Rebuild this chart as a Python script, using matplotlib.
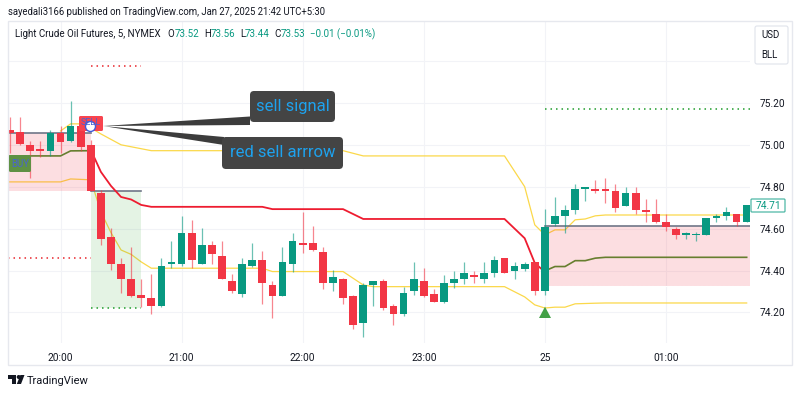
import numpy as np
import matplotlib
matplotlib.use("Agg")
import matplotlib.pyplot as plt
from matplotlib.patches import FancyBboxPatch, Polygon, Circle, Rectangle

plt.rcParams['font.family'] = ['Roboto', 'DejaVu Sans']

# candles, bar 0 is 19:35, one bar is 5 minutes
highs = [75.132, 75.132, 75.020, 75.020, 75.071, 75.090, 75.210, 75.109, 75.023, 74.785,
         74.602, 74.459, 74.511, 74.360, 74.382, 74.459, 74.541, 74.661, 74.641, 74.602,
         74.543, 74.543, 74.382, 74.459, 74.532, 74.492, 74.350, 74.511, 74.581, 74.680,
         74.613, 74.511, 74.401, 74.366, 74.282, 74.339, 74.350, 74.360, 74.241, 74.323,
         74.440, 74.411, 74.312, 74.379, 74.400, 74.440, 74.400, 74.440, 74.470, 74.459,
         74.440, 74.440, 74.440, 74.693, 74.750, 74.713, 74.812, 74.800, 74.832, 74.842,
         74.812, 74.800, 74.800, 74.742, 74.742, 74.670, 74.610, 74.583, 74.583, 74.650,
         74.670, 74.702, 74.670, 74.712]
body_tops = [75.071, 75.060, 75.000, 74.979, 75.058, 75.058, 75.090, 75.090, 75.000, 74.770,
             74.559, 74.432, 74.360, 74.282, 74.271, 74.422, 74.441, 74.581, 74.581, 74.522,
             74.522, 74.470, 74.350, 74.432, 74.451, 74.451, 74.331, 74.440, 74.541, 74.532,
             74.532, 74.490, 74.371, 74.360, 74.280, 74.331, 74.350, 74.350, 74.231, 74.292,
             74.358, 74.349, 74.290, 74.339, 74.358, 74.390, 74.379, 74.390, 74.451, 74.459,
             74.421, 74.430, 74.440, 74.610, 74.659, 74.689, 74.790, 74.800, 74.790, 74.790,
             74.780, 74.769, 74.769, 74.691, 74.670, 74.632, 74.600, 74.581, 74.573, 74.650,
             74.661, 74.680, 74.670, 74.712]
body_bottoms = [75.058, 75.003, 74.971, 74.971, 74.971, 75.012, 75.020, 74.991, 74.781, 74.551,
                74.433, 74.360, 74.279, 74.271, 74.232, 74.232, 74.433, 74.433, 74.449, 74.433,
                74.481, 74.360, 74.301, 74.290, 74.421, 74.339, 74.280, 74.280, 74.433, 74.522,
                74.500, 74.339, 74.339, 74.271, 74.140, 74.150, 74.331, 74.223, 74.191, 74.191,
                74.301, 74.280, 74.250, 74.250, 74.339, 74.360, 74.370, 74.360, 74.390, 74.390,
                74.400, 74.409, 74.301, 74.301, 74.621, 74.659, 74.691, 74.790, 74.780, 74.780,
                74.700, 74.710, 74.691, 74.681, 74.631, 74.610, 74.571, 74.571, 74.569, 74.570,
                74.650, 74.661, 74.632, 74.632]
lows = [74.960, 75.000, 74.843, 74.944, 74.947, 74.960, 75.015, 74.972, 74.780, 74.522,
        74.403, 74.292, 74.273, 74.225, 74.193, 74.225, 74.411, 74.423, 74.411, 74.432,
        74.433, 74.360, 74.292, 74.273, 74.419, 74.241, 74.172, 74.280, 74.395, 74.483,
        74.492, 74.314, 74.304, 74.242, 74.123, 74.083, 74.232, 74.213, 74.142, 74.183,
        74.284, 74.273, 74.250, 74.244, 74.316, 74.335, 74.342, 74.341, 74.371, 74.390,
        74.360, 74.400, 74.282, 74.282, 74.613, 74.581, 74.670, 74.732, 74.772, 74.723,
        74.681, 74.710, 74.670, 74.632, 74.626, 74.590, 74.551, 74.551, 74.543, 74.570,
        74.633, 74.642, 74.613, 74.632]
# r = down bar, g = up bar
directions = ("rrrrgrgrrr"
              "rrrrrgggrg"
              "rrrggrrggr"
              "rrgrrggrrg"
              "grrgggrggr"
              "ggrgggggrr"
              "rgrrrrrggg"
              "ggrg")

yellow_upper_bars = [5, 6, 7, 8, 9, 11, 14, 33, 35, 49, 51, 52, 53, 54, 55, 56, 57, 58, 59, 73]
yellow_upper = [75.066, 75.100, 75.100, 75.081, 75.052, 75.000, 74.972, 74.972, 74.947, 74.947,
                74.800, 74.618, 74.570, 74.594, 74.594, 74.642, 74.646, 74.661, 74.665, 74.665]
yellow_lower_bars = [-0.2, 5, 6, 8, 9, 10, 11, 12, 13, 14, 25, 26, 33, 35, 36, 49, 51, 52, 53, 54, 55, 56, 58, 59, 73]
yellow_lower = [74.823, 74.823, 74.837, 74.833, 74.680, 74.581, 74.498, 74.477, 74.441, 74.411,
                74.411, 74.395, 74.395, 74.331, 74.323, 74.323, 74.274, 74.236, 74.221, 74.225,
                74.225, 74.241, 74.244, 74.245, 74.245]
red_bars = [8, 9, 10, 11, 12, 13, 14, 25, 26, 33, 35, 49, 51, 52, 53]
red_line = [74.976, 74.871, 74.804, 74.751, 74.739, 74.713, 74.704, 74.704, 74.693, 74.693,
            74.646, 74.646, 74.554, 74.436, 74.393]
green_left_bars = [-0.2, 5, 6, 8]
green_left = [74.947, 74.947, 74.971, 74.972]
green_right_bars = [53, 54, 55, 56, 57, 58, 59, 73]
green_right = [74.398, 74.419, 74.419, 74.447, 74.447, 74.459, 74.463, 74.463]

time_bars = [5, 17, 29, 41, 53, 65]
time_labels = ["20:00", "21:00", "22:00", "23:00", "25", "01:00"]
price_grid = [74.2, 74.4, 74.6, 74.8, 75.0, 75.2, 75.4]
price_ticks = [74.2, 74.4, 74.6, 74.8, 75.0, 75.2]
last_price = 74.71

green = "#089981"
red = "#f23645"
yellow = "#fbd84a"
text_col = "#131722"
grid_col = "#f2f3f7"

fig = plt.figure(figsize=(8, 3.94), dpi=100)
ax = fig.add_axes([8 / 800, 1 - 343 / 394, 742 / 800, 322 / 394])
bars = np.arange(len(highs))
ax.set_xlim(-0.203, 73.33)
ax.set_ylim(74.054, 75.591)

ax.set_xticks(time_bars)
ax.set_xticklabels(time_labels)
ax.set_yticks(price_ticks)
ax.set_yticklabels(["%.2f" % p for p in price_ticks])
ax.yaxis.tick_right()
ax.tick_params(length=0, labelsize=7.3, colors=text_col)
ax.tick_params(axis="x", pad=7)
ax.tick_params(axis="y", pad=7)
for s in ax.spines.values():
    s.set_visible(False)
for t in price_grid:
    ax.axhline(t, color=grid_col, lw=0.8, zorder=0)
for t in time_bars:
    ax.axvline(t, color=grid_col, lw=0.8, zorder=0)

# lines go first so the boxes tint them like on the chart
ax.plot(yellow_upper_bars, yellow_upper, color=yellow, lw=0.9, zorder=1)
ax.plot(yellow_lower_bars, yellow_lower, color=yellow, lw=0.9, zorder=1)
ax.plot(green_left_bars, green_left, color="#4c8c2b", lw=1.2, zorder=1)
ax.plot(green_right_bars, green_right, color="#4c8c2b", lw=1.2, zorder=1)

# zones
ax.fill_between([-0.2, 8], 74.780, 75.058, color=red, alpha=0.16, lw=0, zorder=2)
ax.fill_between([8, 13], 74.223, 74.780, color="#4caf50", alpha=0.15, lw=0, zorder=2)
ax.fill_between([53, 73.33], 74.326, 74.613, color=red, alpha=0.16, lw=0, zorder=2)
ax.plot([-0.2, 8], [75.058, 75.058], color="#6f7687", lw=1.2, zorder=3)
ax.plot([8, 13], [74.780, 74.780], color="#6f7687", lw=1.2, zorder=3)
ax.plot([53, 73.33], [74.613, 74.613], color="#6f7687", lw=1.2, zorder=3)
ax.plot([53, 73.33], [74.326, 74.326], color="white", lw=0.8, ls=(0, (2, 2)), zorder=3)

dots = (0, (1, 2.6))
ax.plot([8, 13], [75.378, 75.378], color="#e8262c", lw=1.1, ls=dots, zorder=3)
ax.plot([-0.2, 8], [74.460, 74.460], color="#e8262c", lw=1.1, ls=dots, zorder=3)
ax.plot([8, 13], [74.223, 74.223], color="#1f9d2c", lw=1.1, ls=dots, zorder=3)
ax.plot([53, 73.33], [75.169, 75.169], color="#1f9d2c", lw=1.1, ls=dots, zorder=3)

ax.plot(red_bars, red_line, color="#ee1c30", lw=1.3, zorder=4)

cols = [green if d == "g" else red for d in directions]
ax.vlines(bars, lows, highs, colors=cols, lw=0.9, alpha=0.6, zorder=5)
ax.bar(bars, np.array(body_tops) - np.array(body_bottoms), bottom=body_bottoms,
       width=0.76, color=cols, lw=0, zorder=6)

# everything else is placed in picture pixels on a second axes
ov = fig.add_axes([0, 0, 1, 1], zorder=5)
ov.set_xlim(0, 800)
ov.set_ylim(394, 0)
ov.axis("off")
ov.patch.set_alpha(0)

ov.add_patch(Rectangle((8, 21), 784, 344, fill=False, ec="#e6e8ee", lw=1))

ov.text(8, 12, "sayedali3166 published on TradingView.com, Jan 27, 2025 21:42 UTC+5:30",
        fontsize=6.87, color=text_col, va="center")
ov.text(15, 34, "Light Crude Oil Futures, 5, NYMEX", fontsize=7, color=text_col, va="center")
for x, s in zip([167.7, 204, 240, 274], "OHLC"):
    ov.text(x, 34, s, fontsize=7, color=text_col, va="center")
for x, s in zip([174.7, 210.7, 245, 280.7, 310],
                ["73.52", "73.56", "73.44", "73.53", "\u22120.01 (\u22120.01%)"]):
    ov.text(x, 34, s, fontsize=7, color=green, va="center")

# currency / unit box
ov.add_patch(FancyBboxPatch((755, 26), 33, 38, boxstyle="round,pad=0,rounding_size=2",
                            fc="white", ec="#e0e3eb", lw=0.8))
ov.text(761, 35, "USD", fontsize=7, color=text_col, va="center")
ov.text(761, 55, "BLL", fontsize=7, color=text_col, va="center")

# last price tag
ov.add_patch(FancyBboxPatch((751, 199), 34, 13, boxstyle="round,pad=0,rounding_size=1",
                            fc="white", ec="#4fb8a6", lw=0.9))
ov.text(768, 205.7, "%.2f" % last_price, fontsize=7.3, color=green, va="center", ha="center")

# BUY / SELL labels
ov.add_patch(FancyBboxPatch((9, 155), 22, 17, boxstyle="round,pad=0,rounding_size=1.5",
                            fc="#5f9144", ec="none"))
ov.text(20, 164, "BUY", fontsize=7, color="#4a63d0", va="center", ha="center")
ov.add_patch(FancyBboxPatch((79, 116), 24, 15, boxstyle="round,pad=0,rounding_size=1.5",
                            fc="#f8444f", ec="none"))
ov.text(91, 122, "SELL", fontsize=6.5, color="#4a63d0", va="center", ha="center")
ov.add_patch(Polygon([(545, 306.7), (539, 318), (551, 318)], fc="#43a047", ec="none"))

# callouts
ov.add_patch(Polygon([(103, 126), (250, 116.5), (250, 125)], fc="#3c3c3c", ec="none"))
ov.add_patch(Polygon([(103, 126), (224, 137), (224, 145)], fc="#3c3c3c", ec="none"))
ov.add_patch(FancyBboxPatch((250, 91), 85, 31, boxstyle="round,pad=0,rounding_size=4",
                            fc="#444444", ec="none"))
ov.add_patch(FancyBboxPatch((222, 137), 121, 32, boxstyle="round,pad=0,rounding_size=4",
                            fc="#444444", ec="none"))
ov.text(292.5, 106, "sell signal", fontsize=12, color="#1ea2ee", va="center", ha="center")
ov.text(282.5, 152.5, "red sell arrrow", fontsize=12, color="#1ea2ee", va="center", ha="center")
ov.add_patch(Circle((90.5, 126.5), 5, fc="white", ec="#3f5bd8", lw=1))

# TradingView mark
ov.add_patch(Polygon([(8, 375), (16, 375), (16, 384), (12, 384), (12, 379), (8, 379)],
                     fc=text_col, ec="none"))
ov.add_patch(Circle((18.7, 377), 2, fc=text_col, ec="none"))
ov.add_patch(Polygon([(24.5, 375), (21, 384), (16.8, 384), (20.4, 375)], fc=text_col, ec="none"))
ov.text(27, 381, "TradingView", fontsize=8, color=text_col, va="center")

fig.savefig("out.png", dpi=100)
